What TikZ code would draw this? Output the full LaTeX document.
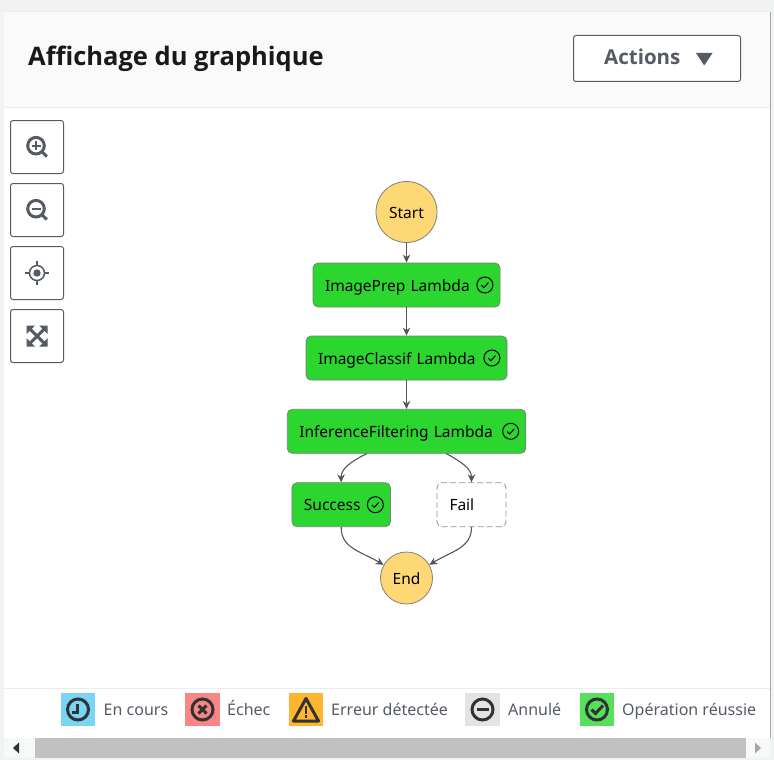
\documentclass[tikz,border=0pt]{standalone}
\usepackage{fontspec}
\setmainfont{Noto Sans}[BoldFont={Open Sans Bold}]
\usetikzlibrary{arrows.meta}
\definecolor{pagegray}{HTML}{F1F3F3}
\definecolor{headgray}{HTML}{FAFAFA}
\definecolor{rulegray}{HTML}{EAEDED}
\definecolor{inkgray}{HTML}{545B64}
\definecolor{darkink}{HTML}{2F3335}
\definecolor{okgreen}{HTML}{2BD62F}
\definecolor{startyellow}{HTML}{FFD876}
\definecolor{edgegray}{HTML}{7F7F7F}
\definecolor{flowgray}{HTML}{555555}
\definecolor{runblue}{HTML}{7AD4F4}
\tikzset{
	toolbtn/.style={draw=inkgray, line width=1pt, rounded corners=2.5pt, fill=white, minimum width=53pt, minimum height=53pt, inner sep=0pt},
	terminal/.style={circle, draw=edgegray, line width=0.8pt, fill=startyellow, inner sep=0pt, text height=12pt, text depth=0pt, font=\fontsize{15.5}{18}\selectfont},
	statebox/.style={draw=edgegray, line width=0.8pt, rounded corners=5pt, fill=okgreen, minimum height=44pt, inner xsep=0pt, inner ysep=0pt, align=left, text height=12pt, text depth=0pt, font=\fontsize{15.5}{18}\selectfont},
	flow/.style={draw=flowgray, line width=1.1pt, -{Stealth[length=8pt,width=7.5pt]}},
	swatch/.style={minimum width=34.5pt, minimum height=33.5pt, inner sep=0pt},
	legendtext/.style={anchor=base west, inner sep=0pt, text=inkgray, font=\fontsize{16}{19}\selectfont},
	okmark/.pic={
		\draw[line width=1pt] (0,0) circle (8);
		\draw[line width=1pt] (-3.5,0.3) -- (-1,2.7) -- (3.5,-2.5);
	},
	lens/.pic={
		\draw[inkgray, line width=3pt] (0,0) circle (8.3);
		\draw[inkgray, line width=3pt] (6,6) -- (10.8,10.8);
	}
}
\begin{document}
\begin{tikzpicture}[x=1pt, y=-1pt]
	\useasboundingbox (0,0) rectangle (774,760);
	%fondo
	\fill[pagegray] (0,0) rectangle (774,760);
	\fill[white] (4,12) rectangle (770,738);
	\fill[headgray] (4,12) rectangle (770,107);
	\draw[rulegray, line width=1pt] (4,12) -- (770,12);
	\draw[rulegray, line width=1pt] (4,107.5) -- (770,107.5);
	\draw[rulegray, line width=1pt] (4,688.5) -- (770,688.5);
	\draw[gray!70, line width=1pt] (770.5,12) -- (770.5,738);

	%intestazione
	\node[anchor=base west, inner sep=0pt, font=\fontsize{25.5}{30}\bfseries\selectfont, text=black!90] (title) at (28,66) {Affichage du graphique};
	\node[draw=inkgray, line width=1pt, rounded corners=2.5pt, fill=white, minimum width=167pt, minimum height=46pt, inner sep=0pt] (actions) at (657,58.5) {};
	\node[anchor=base west, inner sep=0pt, text=inkgray, font=\fontsize{20.5}{24}\bfseries\selectfont] (actionstext) at (604,65) {Actions};
	\fill[inkgray] (696,53) -- (712.5,53) -- (704.2,65.5) -- cycle;

	%pulsanti
	\foreach \y/\n in {147/zoomin, 210/zoomout, 273/center, 336/fit}
		\node[toolbtn] (\n) at (37,\y) {};
	\pic at (36,145.7) {lens};
	\pic at (36,208.7) {lens};
	\draw[inkgray, line width=2.4pt] (31.5,145.7) -- (40.5,145.7) (36,141.2) -- (36,150.2);
	\draw[inkgray, line width=2.4pt] (31.5,208.7) -- (40.5,208.7);
	\draw[inkgray, line width=1.5pt] (37,273) circle (7.5);
	\fill[inkgray] (37,273) circle (3.7);
	\draw[inkgray, line width=1.5pt] (25,273) -- (29,273) (45,273) -- (49,273) (37,261) -- (37,265) (37,281) -- (37,285);
	\fill[inkgray] (26.5,325.5) -- (35,325.5) -- (26.5,334) -- cycle;
	\fill[inkgray] (47.7,325.5) -- (39.2,325.5) -- (47.7,334) -- cycle;
	\fill[inkgray] (26.5,346.7) -- (35,346.7) -- (26.5,338.2) -- cycle;
	\fill[inkgray] (47.7,346.7) -- (39.2,346.7) -- (47.7,338.2) -- cycle;
	\draw[inkgray, line width=3pt] (28,327) -- (46.2,345.2) (46.2,327) -- (28,345.2);

	%stati
	\node[terminal, minimum size=61pt] (start) at (406.5,212) {Start};
	\node[statebox, text width=163pt, minimum width=187pt] (imageprep) at (406.5,285) {ImagePrep Lambda};
	\node[statebox, text width=177pt, minimum width=201pt] (imageclassif) at (406.5,358) {ImageClassif Lambda};
	\node[statebox, text width=214.5pt, minimum width=238.5pt] (inference) at (406.5,431.3) {InferenceFiltering Lambda};
	\node[statebox, text width=74.5pt, minimum width=98.5pt] (success) at (341.2,504.7) {Success};
	\node[statebox, text width=44pt, minimum width=69pt, fill=white, draw=gray!85, dash pattern=on 6pt off 3pt] (fail) at (471.5,504.7) {Fail};
	\node[terminal, minimum size=52pt] (end) at (406.5,578) {End};

	\foreach \n in {imageprep, imageclassif, inference, success}
		\pic[xshift=-15.5pt] at (\n.east) {okmark};

	%frecce
	\draw[flow] (start) -- (imageprep);
	\draw[flow] (imageprep) -- (imageclassif);
	\draw[flow] (imageclassif) -- (inference);
	\coordinate (leftout) at (367,453.5);
	\coordinate (rightout) at (446,453.5);
	\draw[flow] (leftout) .. controls (350,462) and (341,469) .. (success.north);
	\draw[flow] (rightout) .. controls (462,462) and (471.5,469) .. (fail.north);
	\draw[flow] (success.south) .. controls (341,548) and (360,551) .. (end.150);
	\draw[flow] (fail.south) .. controls (471.5,548) and (452,551) .. (end.30);

	%legenda
	\node[swatch, fill=runblue] (runbox) at (78,709.5) {};
	\node[swatch, fill={rgb,255:red,249;green,134;blue,134}] (failbox) at (202.5,709.5) {};
	\node[swatch, fill={rgb,255:red,255;green,181;blue,46}] (warnbox) at (306,709.5) {};
	\node[swatch, fill={rgb,255:red,227;green,227;blue,227}] (stopbox) at (482.5,709.5) {};
	\node[swatch, fill={rgb,255:red,87;green,224;blue,90}] (donebox) at (597,709.5) {};
	\node[legendtext] (runtext) at (103.5,715) {En cours};
	\node[legendtext] (failtext) at (227,715) {Échec};
	\node[legendtext] (warntext) at (331,715) {Erreur détectée};
	\node[legendtext] (stoptext) at (508,715) {Annulé};
	\node[legendtext] (donetext) at (622,715) {Opération réussie};

	\foreach \x in {78,202.5,482.5,597}
		\draw[darkink, line width=3pt] (\x,709.5) circle (10.5);
	\draw[darkink, line width=2.6pt] (71.5,712.5) -- (77.5,712.5) -- (77.5,704);
	\draw[darkink, line width=3pt] (198.5,705.5) -- (206.5,713.5) (206.5,705.5) -- (198.5,713.5);
	\draw[darkink, line width=3pt, line join=round] (306,698.5) -- (318.5,721) -- (293.5,721) -- cycle;
	\draw[darkink, line width=2.4pt] (306,706) -- (306,713.5) (306,715) -- (306,718);
	\draw[darkink, line width=3pt] (476.5,709.5) -- (488.5,709.5);
	\draw[darkink, line width=3pt] (591.5,709.5) -- (595.5,713.5) -- (603,705.5);

	%barra di scorrimento
	\fill[pagegray!60!white] (4,738) rectangle (770,758);
	\node[fill={rgb,255:red,193;green,193;blue,193}, minimum width=711pt, minimum height=20pt, inner sep=0pt] (thumb) at (390.5,748) {};
	\fill[darkink] (13,748) -- (19,742.5) -- (19,753.5) -- cycle;
	\fill[gray!70] (761,748) -- (755,742.5) -- (755,753.5) -- cycle;
\end{tikzpicture}
\end{document}
